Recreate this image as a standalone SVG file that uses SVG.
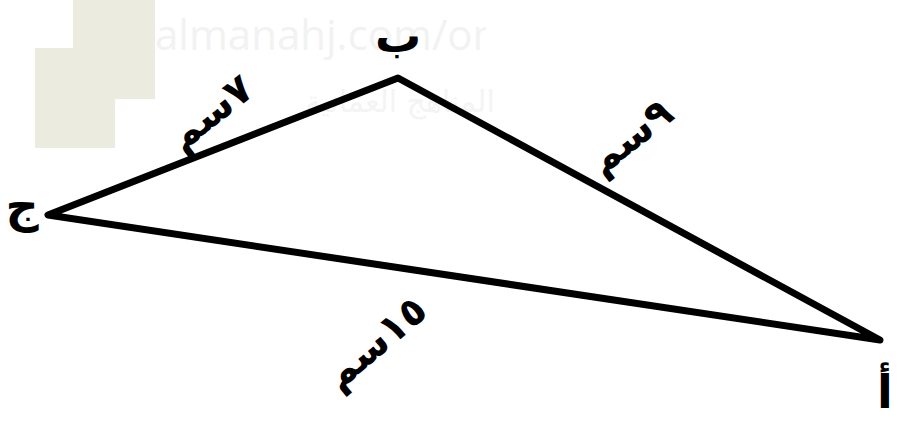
<svg xmlns="http://www.w3.org/2000/svg" width="904" height="423" viewBox="0 0 904 423">
<style>
.edge{stroke:#000;stroke-width:7;fill:none;stroke-linejoin:round;stroke-linecap:butt}
.lbl{font-family:"DejaVu Sans",sans-serif;font-weight:bold;fill:#000;text-anchor:middle;dominant-baseline:central}
.wm{font-family:"Open Sans","Liberation Sans",sans-serif;fill:#f2f2f2}
</style>
<defs><clipPath id="wmclip"><rect x="0" y="0" width="486" height="423"/></clipPath></defs>
<rect width="904" height="423" fill="#fff"/>
<g id="watermark">
<rect x="73" y="0" width="82" height="99" fill="#ebebe0"/>
<rect x="35" y="48" width="80" height="100" fill="#ebebe0"/>
<text class="wm" x="155" y="50" font-size="42" clip-path="url(#wmclip)">almanahj.com/om</text>
<text x="400" y="112" font-size="30" text-anchor="middle" fill="#f4f4f4" style="font-family:'DejaVu Sans',sans-serif">المناهج العمانية</text>
</g>
<g id="connectors">
<polygon class="edge" points="398,78 48,215 880,340"/>
</g>
<g id="node-b"><text class="lbl" x="398" y="36" font-size="46">ب</text></g>
<g id="node-j"><text class="lbl" x="22" y="206" font-size="46">ج</text></g>
<g id="node-a"><text class="lbl" x="885" y="392" font-size="46">أ</text></g>
<g id="label-bj"><text class="lbl" font-size="40" transform="translate(210,112) rotate(-38)">٧سم</text></g>
<g id="label-ba"><text class="lbl" font-size="40" transform="translate(630,136) rotate(-38)">٩سم</text></g>
<g id="label-ja"><text class="lbl" font-size="40" transform="translate(375,342) rotate(-40)">١٥سم</text></g>
</svg>
